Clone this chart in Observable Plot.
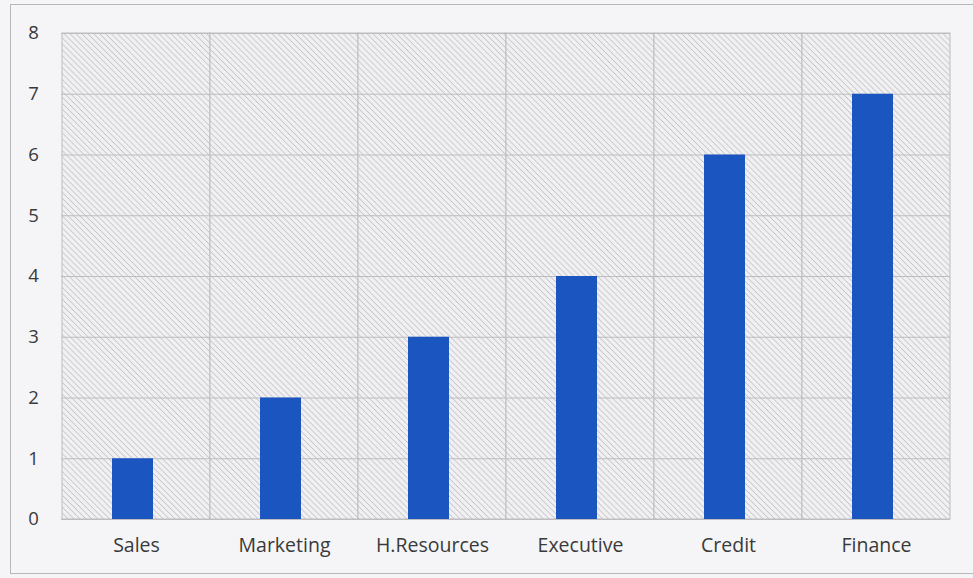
<!DOCTYPE html>
<html>
<head>
<meta charset="utf-8">
<script src="https://cdn.jsdelivr.net/npm/d3@7"></script>
<script src="https://cdn.jsdelivr.net/npm/@observablehq/plot@0.6"></script>
<style>
  html, body { margin: 0; padding: 0; background: #f5f5f7; }
  #wrap { position: relative; width: 973px; height: 578px; overflow: hidden; }
  #frame { position: absolute; left: 10px; top: 4px; width: 970px; height: 570px; border: 1px solid #b8b8bc; box-sizing: border-box; pointer-events: none; }
  svg { display: block; }
</style>
</head>
<body>
<div id="wrap"><div id="frame"></div></div>
<script>
const categories = ["Sales", "Marketing", "H.Resources", "Executive", "Credit", "Finance"];
const values = [1, 2, 3, 4, 6, 7];
const yTicks = [0, 1, 2, 3, 4, 5, 6, 7, 8];

const data = categories.map((c, i) => ({category: c, value: values[i]}));

const chart = Plot.plot({
  width: 973,
  height: 578,
  marginLeft: 61,
  marginRight: 23,
  marginTop: 33,
  marginBottom: 59,
  style: {background: "transparent", fontFamily: "'Open Sans', sans-serif", fontSize: "19px", color: "#3a3a3a"},
  x: {domain: categories, padding: 0, label: null},
  y: {domain: [0, 8], ticks: yTicks, label: null},
  marks: [
    Plot.barY(categories, {x: d => d, y1: 0, y2: 8, fill: "url(#hatch)", stroke: "#bdbdc0", strokeWidth: 1}),
    Plot.ruleY(yTicks, {stroke: "#bdbdc0", strokeWidth: 1}),
    Plot.barY(data, {x: "category", y: "value", fill: "#1b55c0", insetLeft: 50, insetRight: 57}),
    Plot.axisX({tickSize: 0, tickPadding: 19, fontSize: 19.5}),
    Plot.axisY({ticks: yTicks, tickSize: 0, tickPadding: 24, textAnchor: "middle", dx: -4, fontSize: 18.5})
  ]
});

const ns = "http://www.w3.org/2000/svg";
const defs = document.createElementNS(ns, "defs");
defs.innerHTML = `<pattern id="hatch" patternUnits="userSpaceOnUse" width="4.2" height="4.2" patternTransform="rotate(-45)">
  <rect width="4.2" height="4.2" fill="#f0f0f2"></rect>
  <line x1="0" y1="0" x2="0" y2="4.2" stroke="#bfbfc3" stroke-width="1.4"></line>
</pattern>`;
chart.insertBefore(defs, chart.firstChild);
document.getElementById("wrap").insertBefore(chart, document.getElementById("frame"));
</script>
</body>
</html>
